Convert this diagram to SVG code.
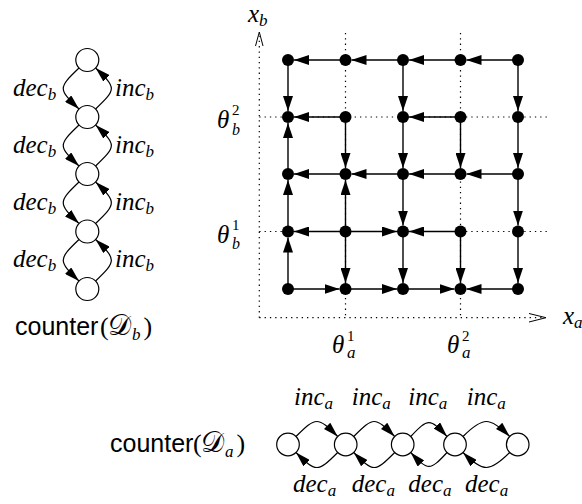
<svg xmlns="http://www.w3.org/2000/svg" width="582" height="504" viewBox="0 0 582 504">
<style>
.dt{stroke:#000;stroke-width:1.2;stroke-dasharray:1.3 4;fill:none}
.ax{stroke:#000;stroke-width:1;fill:none}
.e{stroke:#000;stroke-width:1.4;fill:none;marker-end:url(#ah)}
.c{stroke:#000;stroke-width:1.2;fill:none;marker-end:url(#ah2)}
.st{fill:#fff;stroke:#000;stroke-width:1.2}
.gn{fill:#000}
.m{font-family:'Liberation Serif','DejaVu Serif',serif;font-style:italic;font-size:25px}
.sb{font-family:'Liberation Serif','DejaVu Serif',serif;font-style:italic;font-size:17px}
.sb2{font-family:'Liberation Serif','DejaVu Serif',serif;font-style:italic;font-size:16px}
.up{font-family:'Liberation Serif','DejaVu Serif',serif;font-style:normal;font-size:15px}
.sf{font-family:'Liberation Sans',sans-serif;font-size:25px}
.pr{font-family:'Liberation Serif','DejaVu Serif',serif;font-style:normal;font-size:26px}
.cal{font-family:'DejaVu Serif','Noto Sans','Liberation Serif',serif;font-style:normal;font-size:29px}
</style>
<defs>
<marker id="ah" viewBox="0 0 15 10" refX="15" refY="5" markerWidth="15" markerHeight="10" markerUnits="userSpaceOnUse" orient="auto"><path d="M0,0 L15,5 L0,10 z" fill="#000"/></marker>
<marker id="ah2" viewBox="0 0 15 9" refX="15" refY="4.5" markerWidth="15" markerHeight="9" markerUnits="userSpaceOnUse" orient="auto"><path d="M0,0 L15,4.5 L0,9 z" fill="#000"/></marker>
</defs>

<g id="axes">
<line class="dt" x1="259.3" y1="317.7" x2="259.3" y2="36"/>
<polyline class="ax" points="255.5,46 259.3,32 263,46"/>
<line class="dt" x1="259.3" y1="317.7" x2="543" y2="317.7"/>
<polyline class="ax" points="529,313.5 546,317.7 529,322"/>
<line class="dt" x1="345.5" y1="33" x2="345.5" y2="317.7"/>
<line class="dt" x1="460.5" y1="33" x2="460.5" y2="317.7"/>
<line class="dt" x1="259.3" y1="117" x2="547" y2="117"/>
<line class="dt" x1="259.3" y1="231.5" x2="547" y2="231.5"/>
</g>

<g id="connectors">
<line class="e" x1="345.5" y1="60" x2="294" y2="60"/>
<line class="e" x1="403" y1="60" x2="351.5" y2="60"/>
<line class="e" x1="460.5" y1="60" x2="409" y2="60"/>
<line class="e" x1="518" y1="60" x2="466.5" y2="60"/>
<line class="e" x1="345.5" y1="117" x2="294" y2="117"/>
<line class="e" x1="460.5" y1="117" x2="409" y2="117"/>
<line class="e" x1="345.5" y1="174" x2="294" y2="174"/>
<line class="e" x1="403" y1="174" x2="351.5" y2="174"/>
<line class="e" x1="460.5" y1="174" x2="409" y2="174"/>
<line class="e" x1="518" y1="174" x2="466.5" y2="174"/>
<line class="e" x1="345.5" y1="231.5" x2="294" y2="231.5"/>
<line class="e" x1="345.5" y1="231.5" x2="397" y2="231.5"/>
<line class="e" x1="460.5" y1="231.5" x2="409" y2="231.5"/>
<line class="e" x1="288" y1="289" x2="339.5" y2="289"/>
<line class="e" x1="345.5" y1="289" x2="397" y2="289"/>
<line class="e" x1="403" y1="289" x2="454.5" y2="289"/>
<line class="e" x1="518" y1="289" x2="466.5" y2="289"/>
<line class="e" x1="288" y1="60" x2="288" y2="111"/>
<line class="e" x1="403" y1="60" x2="403" y2="111"/>
<line class="e" x1="518" y1="60" x2="518" y2="111"/>
<line class="e" x1="288" y1="174" x2="288" y2="123"/>
<line class="e" x1="345.5" y1="117" x2="345.5" y2="168"/>
<line class="e" x1="403" y1="117" x2="403" y2="168"/>
<line class="e" x1="460.5" y1="117" x2="460.5" y2="168"/>
<line class="e" x1="518" y1="117" x2="518" y2="168"/>
<line class="e" x1="288" y1="231.5" x2="288" y2="180"/>
<line class="e" x1="345.5" y1="231.5" x2="345.5" y2="180"/>
<line class="e" x1="403" y1="174" x2="403" y2="225.5"/>
<line class="e" x1="518" y1="174" x2="518" y2="225.5"/>
<line class="e" x1="288" y1="289" x2="288" y2="237.5"/>
<line class="e" x1="345.5" y1="231.5" x2="345.5" y2="283"/>
<line class="e" x1="403" y1="231.5" x2="403" y2="283"/>
<line class="e" x1="460.5" y1="231.5" x2="460.5" y2="283"/>
<line class="e" x1="518" y1="231.5" x2="518" y2="283"/>
<path class="c" d="M79,68 C58,88 58,89 79,109"/>
<path class="c" d="M95.6,109 C116.6,89 116.6,88 95.6,68"/>
<path class="c" d="M79,125 C58,145 58,146 79,166"/>
<path class="c" d="M95.6,166 C116.6,146 116.6,145 95.6,125"/>
<path class="c" d="M79,182 C58,202 58,203.5 79,223.5"/>
<path class="c" d="M95.6,223.5 C116.6,203.5 116.6,202 95.6,182"/>
<path class="c" d="M79,239.5 C58,259.5 58,261 79,281"/>
<path class="c" d="M95.6,281 C116.6,261 116.6,259.5 95.6,239.5"/>
<path class="c" d="M296,436.5 C316,416.5 317.7,416.5 337.7,436.5"/>
<path class="c" d="M337.7,452.5 C317.7,472.5 316,472.5 296,452.5"/>
<path class="c" d="M353.7,436.5 C373.7,416.5 374.7,416.5 394.7,436.5"/>
<path class="c" d="M394.7,452.5 C374.7,472.5 373.7,472.5 353.7,452.5"/>
<path class="c" d="M410.7,436.5 C428,418 430,418 447,436.5"/>
<path class="c" d="M447,452.5 C430,471 428,471 410.7,452.5"/>
<path class="c" d="M463,436.5 C483,416.5 489.7,416.5 509.7,436.5"/>
<path class="c" d="M509.7,452.5 C489.7,472.5 483,472.5 463,452.5"/>
</g>

<g id="grid-nodes">
<g id="g00"><circle class="gn" cx="288" cy="60" r="6"/></g>
<g id="g10"><circle class="gn" cx="345.5" cy="60" r="6"/></g>
<g id="g20"><circle class="gn" cx="403" cy="60" r="6"/></g>
<g id="g30"><circle class="gn" cx="460.5" cy="60" r="6"/></g>
<g id="g40"><circle class="gn" cx="518" cy="60" r="6"/></g>
<g id="g01"><circle class="gn" cx="288" cy="117" r="6"/></g>
<g id="g11"><circle class="gn" cx="345.5" cy="117" r="6"/></g>
<g id="g21"><circle class="gn" cx="403" cy="117" r="6"/></g>
<g id="g31"><circle class="gn" cx="460.5" cy="117" r="6"/></g>
<g id="g41"><circle class="gn" cx="518" cy="117" r="6"/></g>
<g id="g02"><circle class="gn" cx="288" cy="174" r="6"/></g>
<g id="g12"><circle class="gn" cx="345.5" cy="174" r="6"/></g>
<g id="g22"><circle class="gn" cx="403" cy="174" r="6"/></g>
<g id="g32"><circle class="gn" cx="460.5" cy="174" r="6"/></g>
<g id="g42"><circle class="gn" cx="518" cy="174" r="6"/></g>
<g id="g03"><circle class="gn" cx="288" cy="231.5" r="6"/></g>
<g id="g13"><circle class="gn" cx="345.5" cy="231.5" r="6"/></g>
<g id="g23"><circle class="gn" cx="403" cy="231.5" r="6"/></g>
<g id="g33"><circle class="gn" cx="460.5" cy="231.5" r="6"/></g>
<g id="g43"><circle class="gn" cx="518" cy="231.5" r="6"/></g>
<g id="g04"><circle class="gn" cx="288" cy="289" r="6"/></g>
<g id="g14"><circle class="gn" cx="345.5" cy="289" r="6"/></g>
<g id="g24"><circle class="gn" cx="403" cy="289" r="6"/></g>
<g id="g34"><circle class="gn" cx="460.5" cy="289" r="6"/></g>
<g id="g44"><circle class="gn" cx="518" cy="289" r="6"/></g>
</g>

<g id="counter-b">
<g id="b0"><circle class="st" cx="87.3" cy="60" r="11.5"/></g>
<g id="b1"><circle class="st" cx="87.3" cy="117" r="11.5"/></g>
<g id="b2"><circle class="st" cx="87.3" cy="174" r="11.5"/></g>
<g id="b3"><circle class="st" cx="87.3" cy="231.5" r="11.5"/></g>
<g id="b4"><circle class="st" cx="87.3" cy="289" r="11.5"/></g>
</g>
<g id="counter-a">
<g id="a0"><circle class="st" cx="288" cy="444.5" r="11.3"/></g>
<g id="a1"><circle class="st" cx="345.7" cy="444.5" r="11.3"/></g>
<g id="a2"><circle class="st" cx="402.7" cy="444.5" r="11.3"/></g>
<g id="a3"><circle class="st" cx="455" cy="444.5" r="11.3"/></g>
<g id="a4"><circle class="st" cx="517.7" cy="444.5" r="11.3"/></g>
</g>

<g id="labels">
<text class="m" x="13" y="95.5">dec<tspan class="sb" dy="4">b</tspan></text>
<text class="m" x="13" y="152.5">dec<tspan class="sb" dy="4">b</tspan></text>
<text class="m" x="13" y="209.8">dec<tspan class="sb" dy="4">b</tspan></text>
<text class="m" x="13" y="267.3">dec<tspan class="sb" dy="4">b</tspan></text>
<text class="m" x="115" y="95.5">inc<tspan class="sb" dy="4">b</tspan></text>
<text class="m" x="115" y="152.5">inc<tspan class="sb" dy="4">b</tspan></text>
<text class="m" x="115" y="209.8">inc<tspan class="sb" dy="4">b</tspan></text>
<text class="m" x="115" y="267.3">inc<tspan class="sb" dy="4">b</tspan></text>

<text class="m" x="294" y="405">inc<tspan class="sb" dy="4">a</tspan></text>
<text class="m" x="351.7" y="405">inc<tspan class="sb" dy="4">a</tspan></text>
<text class="m" x="408.3" y="405">inc<tspan class="sb" dy="4">a</tspan></text>
<text class="m" x="466.7" y="405">inc<tspan class="sb" dy="4">a</tspan></text>
<text class="m" x="293" y="492">dec<tspan class="sb" dy="4">a</tspan></text>
<text class="m" x="351.7" y="492">dec<tspan class="sb" dy="4">a</tspan></text>
<text class="m" x="408.3" y="492">dec<tspan class="sb" dy="4">a</tspan></text>
<text class="m" x="465" y="492">dec<tspan class="sb" dy="4">a</tspan></text>

<text class="m" x="248" y="22">x<tspan class="sb" dy="4">b</tspan></text>
<text class="m" x="563" y="324">x<tspan class="sb" dy="4">a</tspan></text>

<text class="m" x="217" y="128">θ</text><text class="up" x="232" y="115">2</text><text class="sb2" x="232" y="134.5">b</text>
<text class="m" x="217" y="242.5">θ</text><text class="up" x="232" y="229.5">1</text><text class="sb2" x="232" y="249">b</text>
<text class="m" x="332" y="353">θ</text><text class="up" x="347" y="341">1</text><text class="sb" x="347" y="358">a</text>
<text class="m" x="447" y="353">θ</text><text class="up" x="462" y="341">2</text><text class="sb" x="462" y="358">a</text>

<text class="sf" x="15" y="335">counter<tspan class="pr" x="100">(</tspan><tspan class="cal" x="108">𝒟</tspan><tspan class="sb" dx="1" dy="5">b</tspan><tspan class="pr" dx="3" dy="-5">)</tspan></text>
<text class="sf" x="110" y="452">counter<tspan class="pr" x="193">(</tspan><tspan class="cal" x="201">𝒟</tspan><tspan class="sb" dx="1" dy="5">a</tspan><tspan class="pr" dx="3" dy="-5">)</tspan></text>
</g>
</svg>
